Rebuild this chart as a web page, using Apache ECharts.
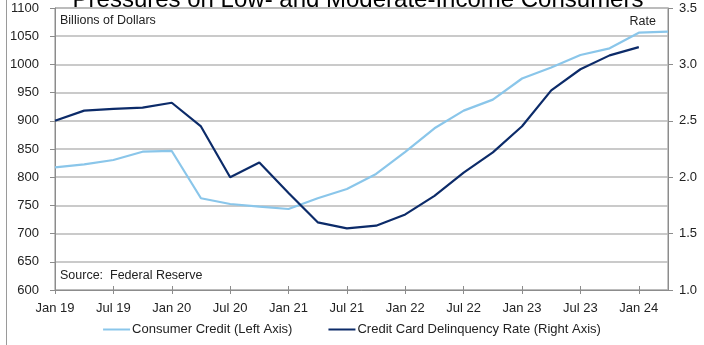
<!DOCTYPE html>
<html>
<head>
<meta charset="utf-8">
<script src="https://cdn.jsdelivr.net/npm/echarts@6/dist/echarts.min.js"></script>
<style>
  html, body { margin: 0; padding: 0; background: #fff; }
  #chart { width: 704px; height: 345px; }
</style>
</head>
<body>
<div id="chart"></div>
<script>
// Quarterly observations, Jan 2019 through Apr 2024
const quarters = [
  'Jan 19', 'Apr 19', 'Jul 19', 'Oct 19',
  'Jan 20', 'Apr 20', 'Jul 20', 'Oct 20',
  'Jan 21', 'Apr 21', 'Jul 21', 'Oct 21',
  'Jan 22', 'Apr 22', 'Jul 22', 'Oct 22',
  'Jan 23', 'Apr 23', 'Jul 23', 'Oct 23',
  'Jan 24', 'Apr 24'
];

// Consumer credit, billions of dollars (left axis)
const consumerCredit = [
  817.5, 822.8, 830.5, 845.2,
  846.5, 762.7, 752.5, 747.7,
  743.6, 762.7, 779.0, 805.7,
  845.0, 886.7, 918.0, 937.5,
  975.0, 994.5, 1016.7, 1028.5,
  1056.2, 1058.0
];

// Credit card delinquency rate, percent (right axis)
const delinquencyRate = [
  2.50, 2.59, 2.605, 2.617,
  2.66, 2.45, 2.00, 2.13,
  1.86, 1.60, 1.547, 1.57,
  1.67, 1.835, 2.04, 2.22,
  2.452, 2.77, 2.957, 3.08,
  3.153
];

const leftTicks = { min: 600, max: 1100, step: 50 };
const rightTicks = { min: 1.0, max: 3.5, step: 0.5 };

const FONT = '"Liberation Sans", Arial, sans-serif';
const LIGHT = '#8ac6ea';
const DARK = '#0c2b69';
const AXIS = '#8c8c8c';
const GRID = '#b9b9b9';

const chart = echarts.init(document.getElementById('chart'), null, { renderer: 'canvas' });

chart.setOption({
  animation: false,
  backgroundColor: '#ffffff',
  textStyle: { fontFamily: FONT },
  grid: {
    left: 55, right: 36, top: 8, bottom: 55,
    show: true, borderColor: AXIS, borderWidth: 1, backgroundColor: 'transparent'
  },
  legend: {
    top: 318,
    left: 'center',
    icon: 'rect',
    itemWidth: 27,
    itemHeight: 2,
    itemGap: 36,
    textStyle: { fontFamily: FONT, fontSize: 13, color: '#222', padding: [0, 0, 0, -3] },
    data: ['Consumer Credit (Left Axis)', 'Credit Card Delinquency Rate (Right Axis)']
  },
  xAxis: [
    {
      type: 'category',
      position: 'bottom',
      boundaryGap: false,
      data: quarters,
      axisLine: { show: true, lineStyle: { color: AXIS, width: 1 } },
      axisTick: { show: true, interval: 1, length: 4, lineStyle: { color: AXIS } },
      axisLabel: { interval: 1, fontFamily: FONT, fontSize: 13, color: '#222', margin: 12 },
      splitLine: { show: false }
    },
    {
      // inner half of the crossing tick marks
      type: 'category',
      position: 'bottom',
      boundaryGap: false,
      data: quarters,
      axisLine: { show: false },
      axisTick: { show: true, inside: true, interval: 1, length: 4, lineStyle: { color: AXIS } },
      axisLabel: { show: false },
      splitLine: { show: false }
    }
  ],
  yAxis: [
    {
      type: 'value',
      min: leftTicks.min, max: leftTicks.max, interval: leftTicks.step,
      axisLine: { show: true, lineStyle: { color: AXIS } },
      axisTick: { show: true, length: 5, lineStyle: { color: AXIS } },
      axisLabel: {
        fontFamily: FONT, fontSize: 13, color: '#222', margin: 16,
        formatter: v => String(v)
      },
      splitLine: { show: true, lineStyle: { color: GRID, width: 1.5 } }
    },
    {
      type: 'value',
      position: 'right',
      min: rightTicks.min, max: rightTicks.max, interval: rightTicks.step,
      axisLine: { show: true, lineStyle: { color: AXIS } },
      axisTick: { show: true, length: 5, lineStyle: { color: AXIS } },
      axisLabel: {
        fontFamily: FONT, fontSize: 13, color: '#222', margin: 11,
        formatter: v => v.toFixed(1)
      },
      splitLine: { show: false }
    }
  ],
  series: [
    {
      name: 'Consumer Credit (Left Axis)',
      type: 'line',
      yAxisIndex: 0,
      data: consumerCredit,
      showSymbol: false,
      symbol: 'none',
      color: LIGHT,
      lineStyle: { color: LIGHT, width: 2.2 }
    },
    {
      name: 'Credit Card Delinquency Rate (Right Axis)',
      type: 'line',
      yAxisIndex: 1,
      data: delinquencyRate,
      showSymbol: false,
      symbol: 'none',
      color: DARK,
      lineStyle: { color: DARK, width: 2.2 }
    }
  ],
  graphic: [
    {
      type: 'line',
      shape: { x1: 6.5, y1: 0, x2: 6.5, y2: 345 },
      style: { stroke: '#9a9a9a', lineWidth: 1 }
    },
    {
      type: 'text',
      style: {
        text: 'Pressures on Low- and Moderate-Income Consumers',
        x: 358, y: 12,
        font: '24px ' + FONT,
        fill: '#000',
        align: 'center',
        verticalAlign: 'bottom'
      }
    },
    {
      type: 'text',
      style: {
        text: 'Billions of Dollars',
        x: 60, y: 21,
        font: '12.5px ' + FONT,
        fill: '#222',
        align: 'left',
        verticalAlign: 'middle'
      }
    },
    {
      type: 'text',
      style: {
        text: 'Rate',
        x: 656, y: 22,
        font: '12.5px ' + FONT,
        fill: '#222',
        align: 'right',
        verticalAlign: 'middle'
      }
    },
    {
      type: 'text',
      style: {
        text: 'Source:  Federal Reserve',
        x: 60, y: 276,
        font: '12.5px ' + FONT,
        fill: '#222',
        align: 'left',
        verticalAlign: 'middle'
      }
    }
  ]
});
</script>
</body>
</html>
